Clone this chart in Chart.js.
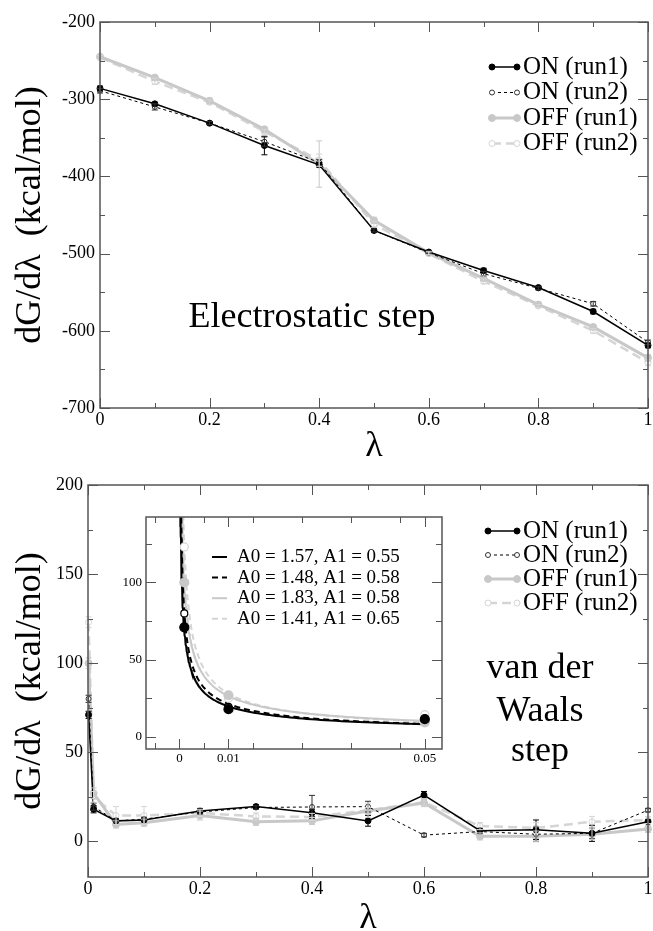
<!DOCTYPE html>
<html>
<head>
<meta charset="utf-8">
<script src="https://cdn.jsdelivr.net/npm/chart.js@4.4.1/dist/chart.umd.min.js"></script>
<style>
  html, body { margin: 0; padding: 0; background: #fff; }
  #wrap { position: relative; width: 653px; height: 931px; overflow: hidden; }
  canvas { position: absolute; }
</style>
</head>
<body>
<div id="wrap">
  <canvas id="elec" width="653" height="460" style="left:0;top:0"></canvas>
  <canvas id="vdw" width="653" height="471" style="left:0;top:460px"></canvas>
  <canvas id="inset" width="350" height="280" style="left:100px;top:505px"></canvas>
</div>
<script>
const SERIF = "'Liberation Serif', 'DejaVu Serif', serif";

const seriesLabels = ['ON (run1)', 'ON (run2)', 'OFF (run1)', 'OFF (run2)'];

// Electrostatic step
const elecLambda = [0, 0.1, 0.2, 0.3, 0.4, 0.5, 0.6, 0.7, 0.8, 0.9, 1];
const elecOn1  = [-286, -306, -331, -360, -385, -470, -498, -522, -544, -575, -619];
const elecOn2  = [-289, -310, -331, -355, -382, -470, -499, -526, -545, -565, -615];
const elecOff1 = [-245, -272, -302, -339, -384, -457, -499, -532, -566, -595, -635];
const elecOff2 = [-246, -277, -304, -342, -379, -462, -500, -536, -568, -600, -641];
const elecErrOn1  = [3, 2, 2, 12, 3, 2, 1, 3, 2, 3, 3];
const elecErrOn2  = [3, 4, 2, 6, 4, 2, 1, 3, 2, 3, 3];
const elecErrOff1 = [3, 3, 3, 3, 30, 4, 2, 3, 2, 3, 4];
const elecErrOff2 = [3, 4, 3, 3, 8, 4, 2, 3, 2, 3, 4];

// van der Waals step
const vdwLambda = [0.001, 0.01, 0.05, 0.1, 0.2, 0.3, 0.4, 0.5, 0.6, 0.7, 0.8, 0.9, 1];
const vdwOn1  = [71, 18, 11.5, 12, 17, 19.5, 16, 11.5, 26, 6, 6.5, 4.5, 11];
const vdwOn2  = [80, 19.5, 11.5, 12.5, 16.5, 19, 19.3, 19.5, 3.5, 5.5, 4, 4.5, 17.5];
const vdwOff1 = [100, 27, 9.5, 10.5, 14.5, 11, 11.5, 17, 21.5, 2.8, 2.8, 4, 7];
const vdwOff2 = [123, 25, 14.5, 14.5, 16, 14, 13.7, 17.5, 22, 8.6, 7.5, 11, 12];
const vdwErrOn1  = [2, 2, 1, 1, 1.5, 1, 2, 3, 2, 1, 5.5, 4.5, 1];
const vdwErrOn2  = [2, 2, 1, 1, 1, 1, 6.5, 3, 1, 1, 4, 3, 1];
const vdwErrOff1 = [3, 3, 2, 2, 2.5, 2, 2, 2, 2, 2, 3, 3, 2];
const vdwErrOff2 = [3, 3, 5, 5, 2, 2, 2, 4, 2, 2, 3, 3, 2];

// inset fits  dG/dl = A0 * l^(-A1)
const fitA0 = [1.57, 1.48, 1.83, 1.41];
const fitA1 = [0.55, 0.58, 0.58, 0.65];

// ticks
const elecXMajor = [0, 0.2, 0.4, 0.6, 0.8, 1];
const elecXMinor = [0.1, 0.3, 0.5, 0.7, 0.9];
const elecYMajor = [-700, -600, -500, -400, -300, -200];
const elecYMinor = [-650, -550, -450, -350, -250];
const vdwYMajor = [0, 50, 100, 150, 200];
const vdwYMinor = [25, 75, 125, 175];
const insetXMajor = [0, 0.01, 0.05];
const insetXMinor = [-0.005, 0.005, 0.015, 0.025, 0.035, 0.045];
const insetYMajor = [0, 50, 100];
const insetYMinor = [25, 75, 125];

const GRAY1 = '#c8c8c8';
const GRAY2 = '#d5d5d5';
const seriesStyle = [
  { color: '#000', width: 1.5, dash: [], radius: 3, fill: '#000', edge: '#000' },
  { color: '#000', width: 1, dash: [3, 3], radius: 2.5, fill: '#fff', edge: '#333' },
  { color: GRAY1, width: 3, dash: [], radius: 3.5, fill: GRAY1, edge: GRAY1 },
  { color: GRAY2, width: 2.5, dash: [9, 5], radius: 3, fill: '#fff', edge: GRAY2 }
];

function makeSeries(lambda, values, errors, i) {
  const s = seriesStyle[i];
  return {
    label: seriesLabels[i],
    inLegend: true,
    data: lambda.map((x, k) => ({ x: x, y: values[k] })),
    errors: errors,
    borderColor: s.color,
    borderWidth: s.width,
    borderDash: s.dash,
    pointRadius: s.radius,
    pointBackgroundColor: s.fill,
    pointBorderColor: s.edge,
    pointBorderWidth: 1,
    tension: 0,
    clip: 6
  };
}

// inward ticks on all four sides + frame
const frameTicks = {
  id: 'frameTicks',
  afterDraw(chart, args, o) {
    const { ctx, chartArea: a } = chart;
    const xs = chart.scales.x, ys = chart.scales.y;
    ctx.save();
    ctx.strokeStyle = o.color;
    ctx.lineWidth = 1;
    ctx.beginPath();
    const xt = (vals, len) => vals.forEach(v => {
      const p = Math.round(xs.getPixelForValue(v)) + 0.5;
      ctx.moveTo(p, a.bottom); ctx.lineTo(p, a.bottom - len);
      ctx.moveTo(p, a.top); ctx.lineTo(p, a.top + len);
    });
    const yt = (vals, len) => vals.forEach(v => {
      const p = Math.round(ys.getPixelForValue(v)) + 0.5;
      ctx.moveTo(a.left, p); ctx.lineTo(a.left + len, p);
      ctx.moveTo(a.right, p); ctx.lineTo(a.right - len, p);
    });
    xt(xs.ticks.map(t => t.value), o.major);
    xt(o.xMinor, o.minor);
    yt(ys.ticks.map(t => t.value), o.major);
    yt(o.yMinor, o.minor);
    ctx.stroke();
    ctx.lineWidth = 1.5;
    ctx.strokeRect(a.left, a.top, a.right - a.left, a.bottom - a.top);
    ctx.restore();
  }
};

const errorBars = {
  id: 'errorBars',
  afterDatasetsDraw(chart) {
    const { ctx, chartArea: a } = chart;
    const xs = chart.scales.x, ys = chart.scales.y;
    ctx.save();
    ctx.beginPath();
    ctx.rect(a.left - 6, a.top, a.right - a.left + 12, a.bottom - a.top);
    ctx.clip();
    chart.data.datasets.forEach(ds => {
      if (!ds.errors) return;
      ctx.strokeStyle = ds.pointBorderColor;
      ctx.lineWidth = 1;
      ctx.setLineDash([]);
      ds.data.forEach((pt, k) => {
        const e = ds.errors[k];
        if (!e) return;
        const x = xs.getPixelForValue(pt.x);
        const y1 = ys.getPixelForValue(pt.y - e);
        const y2 = ys.getPixelForValue(pt.y + e);
        ctx.beginPath();
        ctx.moveTo(x, y1); ctx.lineTo(x, y2);
        ctx.moveTo(x - 3, y1); ctx.lineTo(x + 3, y1);
        ctx.moveTo(x - 3, y2); ctx.lineTo(x + 3, y2);
        ctx.stroke();
      });
    });
    ctx.restore();
  }
};

const legendRows = {
  id: 'legendRows',
  afterDraw(chart, args, o) {
    const ctx = chart.ctx;
    ctx.save();
    ctx.font = o.size + 'px ' + SERIF;
    ctx.textBaseline = 'middle';
    ctx.textAlign = 'left';
    let y = o.y;
    chart.data.datasets.forEach(ds => {
      if (!ds.inLegend) return;
      ctx.strokeStyle = ds.borderColor;
      ctx.lineWidth = ds.borderWidth;
      ctx.setLineDash(ds.borderDash || []);
      ctx.beginPath();
      ctx.moveTo(o.x0, y); ctx.lineTo(o.x1, y);
      ctx.stroke();
      ctx.setLineDash([]);
      if (o.markers) {
        [o.x0, o.x1].forEach(x => {
          ctx.beginPath();
          ctx.arc(x, y, ds.pointRadius, 0, Math.PI * 2);
          ctx.fillStyle = ds.pointBackgroundColor;
          ctx.fill();
          ctx.lineWidth = 1;
          ctx.strokeStyle = ds.pointBorderColor;
          ctx.stroke();
        });
      }
      ctx.fillStyle = '#000';
      ctx.fillText(ds.label, o.textX, y);
      y += o.rowH;
    });
    ctx.restore();
  }
};

const textNotes = {
  id: 'textNotes',
  afterDraw(chart, args, o) {
    const ctx = chart.ctx;
    ctx.save();
    ctx.font = o.size + 'px ' + SERIF;
    ctx.fillStyle = '#000';
    ctx.textAlign = 'center';
    ctx.textBaseline = 'alphabetic';
    o.lines.forEach(l => ctx.fillText(l[0], l[1], l[2]));
    ctx.restore();
  }
};

const whiteArea = {
  id: 'whiteArea',
  beforeDraw(chart) {
    const { ctx, chartArea: a } = chart;
    ctx.save();
    ctx.fillStyle = '#fff';
    ctx.fillRect(a.left, a.top, a.right - a.left, a.bottom - a.top);
    ctx.restore();
  }
};

function xAxis(min, max, major, size, pad, height, title, titlePad) {
  return {
    type: 'linear', min: min, max: max,
    grid: { display: false, drawTicks: false },
    border: { display: false },
    afterBuildTicks: s => { s.ticks = major.map(v => ({ value: v })); },
    ticks: { font: { family: SERIF, size: size }, color: '#000', padding: pad, maxRotation: 0, autoSkip: false, includeBounds: false, callback: v => String(v) },
    title: { display: !!title, text: title, color: '#000', font: { family: SERIF, size: 36 }, padding: { top: 0, bottom: titlePad } },
    afterFit: s => { s.height = height; s.paddingLeft = 0; s.paddingRight = 0; }
  };
}

function yAxis(min, max, major, size, pad, width, title) {
  return {
    type: 'linear', min: min, max: max,
    grid: { display: false, drawTicks: false },
    border: { display: false },
    afterBuildTicks: s => { s.ticks = major.map(v => ({ value: v })); },
    ticks: { font: { family: SERIF, size: size }, color: '#000', padding: pad, autoSkip: false, includeBounds: false, callback: v => String(v) },
    title: { display: !!title, text: title, color: '#000', font: { family: SERIF, size: 36 }, padding: { top: 9, bottom: 0 } },
    afterFit: s => { s.width = width; s.paddingTop = 0; s.paddingBottom = 0; }
  };
}

const baseOpts = { responsive: false, animation: false, devicePixelRatio: 1 };

// Electrostatic chart
new Chart(document.getElementById('elec'), {
  type: 'line',
  data: {
    datasets: [
      makeSeries(elecLambda, elecOn1, elecErrOn1, 0),
      makeSeries(elecLambda, elecOn2, elecErrOn2, 1),
      makeSeries(elecLambda, elecOff1, elecErrOff1, 2),
      makeSeries(elecLambda, elecOff2, elecErrOff2, 3)
    ]
  },
  options: Object.assign({}, baseOpts, {
    layout: { padding: { top: 22, right: 3, left: 0, bottom: 0 } },
    scales: {
      x: xAxis(0, 1, elecXMajor, 18, 1, 52, 'λ', -8),
      y: yAxis(-700, -200, elecYMajor, 18, 5, 100, 'dG/dλ  (kcal/mol)')
    },
    plugins: {
      legend: { display: false }, tooltip: { enabled: false },
      frameTicks: { color: '#555', major: 10, minor: 5, xMinor: elecXMinor, yMinor: elecYMinor },
      legendRows: { x0: 492, x1: 517, textX: 523, y: 67, rowH: 25.5, size: 25, markers: true },
      textNotes: { size: 36, lines: [['Electrostatic step', 312, 327]] }
    }
  }),
  plugins: [errorBars, frameTicks, legendRows, textNotes]
});

// van der Waals chart
new Chart(document.getElementById('vdw'), {
  type: 'line',
  data: {
    datasets: [
      makeSeries(vdwLambda, vdwOn1, vdwErrOn1, 0),
      makeSeries(vdwLambda, vdwOn2, vdwErrOn2, 1),
      makeSeries(vdwLambda, vdwOff1, vdwErrOff1, 2),
      makeSeries(vdwLambda, vdwOff2, vdwErrOff2, 3)
    ]
  },
  options: Object.assign({}, baseOpts, {
    layout: { padding: { top: 25, right: 3, left: 0, bottom: 0 } },
    scales: {
      x: xAxis(0, 1, elecXMajor, 18, 1, 54, 'λ', -9),
      y: yAxis(-20, 200, vdwYMajor, 18, 5, 88, 'dG/dλ  (kcal/mol)')
    },
    plugins: {
      legend: { display: false }, tooltip: { enabled: false },
      frameTicks: { color: '#555', major: 10, minor: 5, xMinor: elecXMinor, yMinor: vdwYMinor },
      legendRows: { x0: 488, x1: 517, textX: 523, y: 71, rowH: 24, size: 25, markers: true },
      textNotes: { size: 36, lines: [['van der', 540, 218], ['Waals', 540, 261], ['step', 540, 301]] }
    }
  }),
  plugins: [errorBars, frameTicks, legendRows, textNotes]
});

// Inset: first three points of each run and the power-law fits
function fitCurve(a0, a1) {
  const pts = [];
  for (let k = 0; k <= 160; k++) {
    const lam = 0.0002 * Math.pow(0.05 / 0.0002, k / 160);
    pts.push({ x: lam, y: a0 * Math.pow(lam, -a1) });
  }
  return pts;
}
const insetRadius = [4.5, 3.5, 4.5, 4];
const vdwAll = [vdwOn1, vdwOn2, vdwOff1, vdwOff2];
const insetPoints = vdwAll.map((vals, i) => ({
  data: vdwLambda.slice(0, 3).map((x, k) => ({ x: x, y: vals[k] })),
  showLine: false,
  pointRadius: insetRadius[i],
  pointBackgroundColor: seriesStyle[i].fill,
  pointBorderColor: i === 1 ? '#000' : seriesStyle[i].edge,
  pointBorderWidth: 1.2
}));
const fitStyle = [
  { color: '#000', dash: [] },
  { color: '#000', dash: [6, 4] },
  { color: GRAY1, dash: [] },
  { color: GRAY2, dash: [6, 4] }
];
const insetFits = fitA0.map((a0, i) => ({
  label: 'A0 = ' + a0.toFixed(2) + ', A1 = ' + fitA1[i].toFixed(2),
  inLegend: true,
  data: fitCurve(a0, fitA1[i]),
  borderColor: fitStyle[i].color,
  borderDash: fitStyle[i].dash,
  borderWidth: 2,
  pointRadius: 0,
  tension: 0
}));

new Chart(document.getElementById('inset'), {
  type: 'line',
  data: { datasets: insetPoints.concat(insetFits) },
  options: Object.assign({}, baseOpts, {
    layout: { padding: { top: 12, right: 8, left: 0, bottom: 0 } },
    scales: {
      x: xAxis(-0.0068, 0.0535, insetXMajor, 13, 2, 36, '', 0),
      y: yAxis(-7.8, 142.4, insetYMajor, 13, 4, 46, '')
    },
    plugins: {
      legend: { display: false }, tooltip: { enabled: false },
      frameTicks: { color: '#555', major: 10, minor: 6, xMinor: insetXMinor, yMinor: insetYMinor },
      legendRows: { x0: 112, x1: 127, textX: 137, y: 52, rowH: 20.6, size: 19, markers: false }
    }
  }),
  plugins: [whiteArea, frameTicks, legendRows]
});
</script>
</body>
</html>
